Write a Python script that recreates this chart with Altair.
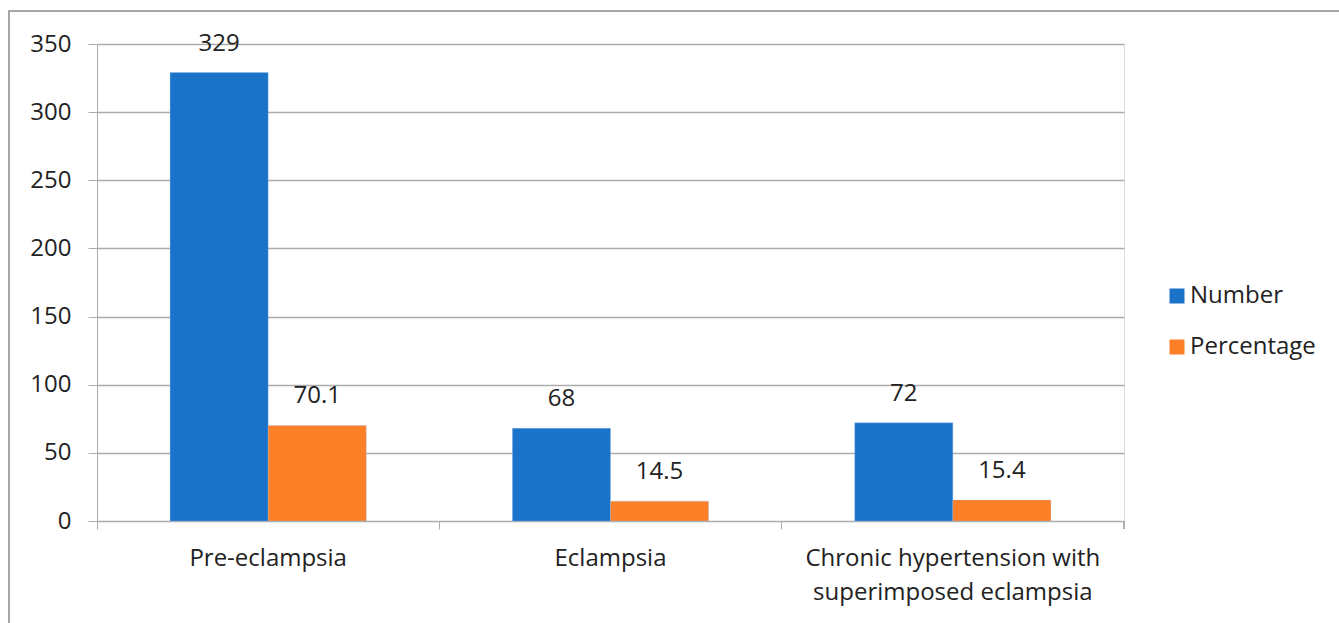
import altair as alt
import pandas as pd

categories = ["Pre-eclampsia", "Eclampsia", "Chronic hypertension with|superimposed eclampsia"]
number = [329, 68, 72]
percentage = [70.1, 14.5, 15.4]
series = ["Number", "Percentage"]
colors = ["#1A73C8", "#FD7F27"]
y_ticks = [0, 50, 100, 150, 200, 250, 300, 350]

rows = []
for c, n, p in zip(categories, number, percentage):
    rows.append({"cat": c, "series": "Number", "value": n, "label": f"{n:g}"})
    rows.append({"cat": c, "series": "Percentage", "value": p, "label": f"{p:g}"})
df = pd.DataFrame(rows)

FONT = "Open Sans"
TXT = "#222222"
GRID = "#ADADAD"

W, H = 1027, 477

x_enc = alt.X("cat:N", sort=categories,
              scale=alt.Scale(paddingInner=0, paddingOuter=0),
              axis=alt.Axis(title=None, labelAngle=0, bandPosition=0,
                            labelExpr="split(datum.label, '|')",
                            labelFont=FONT, labelFontSize=24, labelColor=TXT,
                            labelLineHeight=34, labelPadding=17, labelLimit=0,
                            tickSize=8, tickColor=GRID, domainColor=GRID,
                            labelBound=False, labelOverlap=False))
xo_enc = alt.XOffset("series:N", sort=series,
                     scale=alt.Scale(paddingInner=0, paddingOuter=0.745))
y_enc = alt.Y("value:Q", scale=alt.Scale(domain=[0, 350], nice=False),
              axis=alt.Axis(title=None, values=y_ticks, grid=True, gridColor=GRID,
                            gridWidth=1.3, domainColor=GRID, tickColor=GRID,
                            tickSize=9, labelPadding=17, labelFont=FONT,
                            labelFontSize=24, labelColor=TXT))

bars = alt.Chart(df).mark_bar(stroke="#8DBDF0", strokeWidth=0.6, strokeOpacity=0.5).encode(
    x=x_enc, xOffset=xo_enc, y=y_enc,
    color=alt.Color("series:N", sort=series,
                    scale=alt.Scale(domain=series, range=colors),
                    legend=alt.Legend(title=None, orient="none", legendX=1068, legendY=240,
                                      symbolType="square", symbolSize=225,
                                      symbolStrokeWidth=0, labelFont=FONT,
                                      labelFontSize=24, labelColor=TXT, labelLimit=0,
                                      rowPadding=27, labelOffset=1)),
)

labels = alt.Chart(df).mark_text(font=FONT, fontSize=24, color=TXT, baseline="middle", dy=-29).encode(
    x=alt.X("cat:N", sort=categories), xOffset=alt.XOffset("series:N", sort=series),
    y="value:Q", text="label:N",
)

end_tick = alt.Chart(df).mark_rule(color=GRID, strokeWidth=1).encode(
    x=alt.value(W), y=alt.value(H), y2=alt.value(H + 8))

frame = alt.Chart(df).mark_rect(fill=None, stroke="#A6A6A6", strokeWidth=1.2).encode(
    x=alt.value(-88), x2=alt.value(W + 400), y=alt.value(-33), y2=alt.value(H + 300))

chart = alt.layer(frame, bars, labels, end_tick).properties(
    width=W, height=H,
    autosize=alt.AutoSizeParams(type="none"),
    padding={"left": 97, "top": 44, "right": 215, "bottom": 102},
).configure_view(stroke=None).configure(background="white")

chart.save("out.html", embed_options={"renderer": "svg", "actions": False})
